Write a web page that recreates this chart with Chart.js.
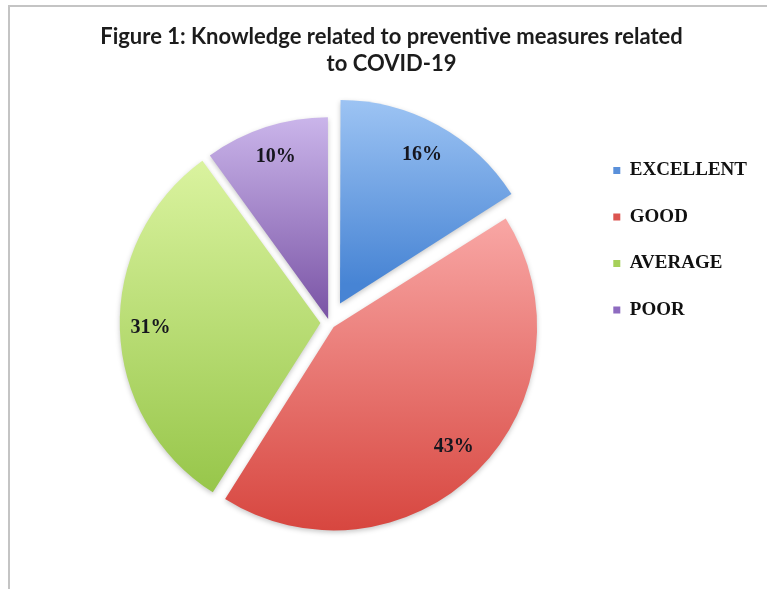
<!DOCTYPE html>
<html>
<head>
<meta charset="utf-8">
<script src="https://cdn.jsdelivr.net/npm/chart.js@4"></script>
<style>
    body { margin: 0; background: #fff; }
    #wrap { position: relative; width: 767px; height: 589px; overflow: hidden; }
    #frame { position: absolute; left: 8px; top: 5px; width: 780px; height: 600px; border-top: 2px solid #c4c4c4; border-left: 2px solid #c4c4c4; }
    #chart { position: absolute; left: 0; top: 0; }
</style>
</head>
<body>
<div id="wrap">
    <div id="frame"></div>
    <canvas id="chart" width="767" height="589"></canvas>
</div>
<script>
const categories = ["EXCELLENT", "GOOD", "AVERAGE", "POOR"];
const percentages = [16, 43, 31, 10];
const titleLines = ["Figure 1: Knowledge related to preventive measures related", "to COVID-19"];

const lightColors = ["#a4c9f6", "#f8a5a3", "#daf39f", "#cbb6eb"];
const darkColors = ["#4784d4", "#d7463f", "#97c64a", "#7b55a6"];
const legendColors = ["#5a90da", "#dc5550", "#a6d05a", "#8e6bc0"];
const explodeOffsets = [88, 24, 36, 16];
const pieRadius = 200;

// vertical gradient fitted to each exploded slice
function sliceGradient(context) {
    const chart = context.chart;
    const area = chart.chartArea;
    const i = context.dataIndex;
    if (!area || i === undefined) return darkColors[i] || "#888";
    const total = percentages.reduce((a, b) => a + b, 0);
    const before = percentages.slice(0, i).reduce((a, b) => a + b, 0);
    const start = -Math.PI / 2 + (before / total) * Math.PI * 2;
    const end = start + (percentages[i] / total) * Math.PI * 2;
    const mid = (start + end) / 2;
    const cy = (area.top + area.bottom) / 2 + Math.sin(mid) * explodeOffsets[i] / 4;
    let ymin = cy, ymax = cy;
    for (let k = 0; k <= 40; k++) {
        const a = start + (end - start) * k / 40;
        const y = cy + Math.sin(a) * pieRadius;
        ymin = Math.min(ymin, y);
        ymax = Math.max(ymax, y);
    }
    const g = chart.ctx.createLinearGradient(0, ymin, 0, ymax);
    g.addColorStop(0, lightColors[i]);
    g.addColorStop(1, darkColors[i]);
    return g;
}

const pieDecor = {
    id: "pieDecor",
    beforeDatasetsDraw(chart) {
        const ctx = chart.ctx;
        ctx.save();
        ctx.shadowColor = "rgba(0,0,0,0.22)";
        ctx.shadowBlur = 5;
        ctx.shadowOffsetY = 2;
    },
    afterDatasetsDraw(chart) {
        const ctx = chart.ctx;
        ctx.restore();
        const meta = chart.getDatasetMeta(0);
        ctx.save();
        ctx.font = "bold 20px 'Liberation Serif', 'Times New Roman', serif";
        ctx.fillStyle = "#16161e";
        ctx.textAlign = "center";
        ctx.textBaseline = "middle";
        meta.data.forEach((arc, i) => {
            const { x, y, startAngle, endAngle, outerRadius } = arc.getProps(["x", "y", "startAngle", "endAngle", "outerRadius"], true);
            const mid = (startAngle + endAngle) / 2;
            const r = outerRadius * 0.85 + (arc.options.offset || 0) / 4;
            ctx.fillText(`${percentages[i]}%`, x + Math.cos(mid) * r, y + Math.sin(mid) * r);
        });
        ctx.restore();
    }
};

new Chart(document.getElementById("chart"), {
    type: "pie",
    data: {
        labels: categories,
        datasets: [{
            data: percentages,
            backgroundColor: sliceGradient,
            borderWidth: 0,
            offset: explodeOffsets,
            hoverOffset: 0,
            clip: false
        }]
    },
    options: {
        responsive: false,
        animation: false,
        radius: pieRadius,
        layout: { padding: { top: 14, left: 26, right: 10, bottom: 77 } },
        plugins: {
            title: {
                display: true,
                text: titleLines,
                color: "#1c1c1c",
                font: { family: "Lato, 'Liberation Sans', sans-serif", size: 22, weight: "bold", lineHeight: 1.2 },
                padding: { top: 10, bottom: 56.6 }
            },
            // empty spacer on the left so the pie sits left of the title centre
            subtitle: {
                display: true,
                position: "left",
                fullSize: false,
                text: "",
                font: { size: 10, lineHeight: 1.2 },
                padding: { top: 35, bottom: 0 }
            },
            legend: {
                position: "right",
                align: "start",
                fullSize: false,
                labels: {
                    boxWidth: 7,
                    boxHeight: 7,
                    padding: 27.5,
                    color: "#111",
                    font: { family: "'Liberation Serif', 'Times New Roman', serif", size: 19, weight: "bold" },
                    generateLabels: (chart) => categories.map((name, i) => ({
                        text: name,
                        fillStyle: legendColors[i],
                        strokeStyle: legendColors[i],
                        lineWidth: 0,
                        fontColor: "#111",
                        hidden: !chart.getDataVisibility(i),
                        index: i
                    }))
                }
            },
            tooltip: { enabled: false }
        }
    },
    plugins: [pieDecor]
});
</script>
</body>
</html>
